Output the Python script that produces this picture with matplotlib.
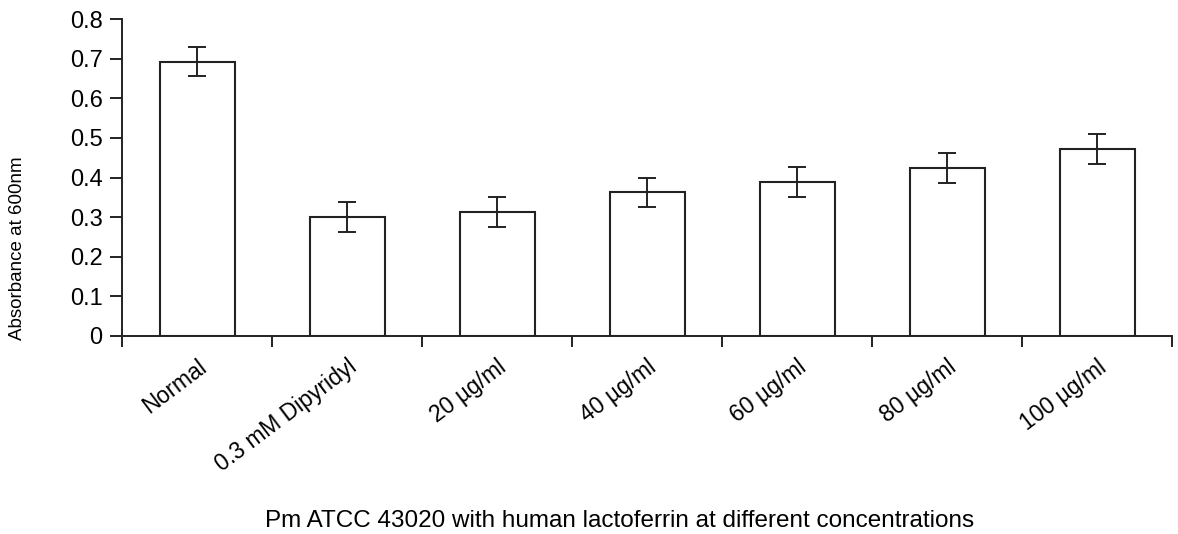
import matplotlib
matplotlib.use("Agg")
import matplotlib.pyplot as plt
import numpy as np

categories = ["Normal", "0.3 mM Dipyridyl", "20 \u00b5g/ml", "40 \u00b5g/ml",
              "60 \u00b5g/ml", "80 \u00b5g/ml", "100 \u00b5g/ml"]
values = [0.692, 0.300, 0.313, 0.363, 0.389, 0.424, 0.471]
errors = [0.037, 0.037, 0.038, 0.037, 0.038, 0.038, 0.038]
yticks = [0, 0.1, 0.2, 0.3, 0.4, 0.5, 0.6, 0.7, 0.8]
ytick_labels = ["0", "0.1", "0.2", "0.3", "0.4", "0.5", "0.6", "0.7", "0.8"]

plt.rcParams['font.family'] = ['Liberation Sans', 'DejaVu Sans']

fig = plt.figure(figsize=(11.78, 5.34), dpi=100)
ax = fig.add_axes([122/1178, 1 - 336/534, (1172-122)/1178, (336-19)/534])

x = np.arange(len(categories))
ax.bar(x, values, width=0.5, color='white', edgecolor='#222222', linewidth=1.5, zorder=2)
ax.errorbar(x, values, yerr=errors, fmt='none', ecolor='#222222', elinewidth=1.4,
            capsize=6.5, capthick=1.4, zorder=3)

ax.set_xlim(-0.5, len(categories) - 0.5)
ax.set_ylim(0, 0.8)
ax.set_yticks(yticks)
ax.set_yticklabels(ytick_labels, fontsize=17)

ax.set_xticks(np.arange(-0.5, len(categories), 1.0))
ax.set_xticklabels([])
ax.set_xticks(x, minor=True)
ax.set_xticklabels(categories, minor=True, rotation=37, ha='right', va='top',
                   rotation_mode='anchor', fontsize=16.5)
ax.tick_params(axis='x', which='minor', length=0, pad=14)
ax.tick_params(axis='x', which='major', direction='out', length=8, width=1.4, color='#222222')
ax.tick_params(axis='y', direction='out', length=9, width=1.4, color='#222222', pad=5)

for s in ['top', 'right']:
    ax.spines[s].set_visible(False)
for s in ['left', 'bottom']:
    ax.spines[s].set_linewidth(1.4)
    ax.spines[s].set_color('#222222')

fig.text(18/1178, 1 - 248/534, "Absorbance at 600nm", rotation=90, ha='center', va='center', fontsize=13.5)
fig.text(620/1178, 1 - 521/534, "Pm ATCC 43020 with human lactoferrin at different concentrations",
         ha='center', va='center', fontsize=17.5)

fig.savefig("out.png", dpi=100)
